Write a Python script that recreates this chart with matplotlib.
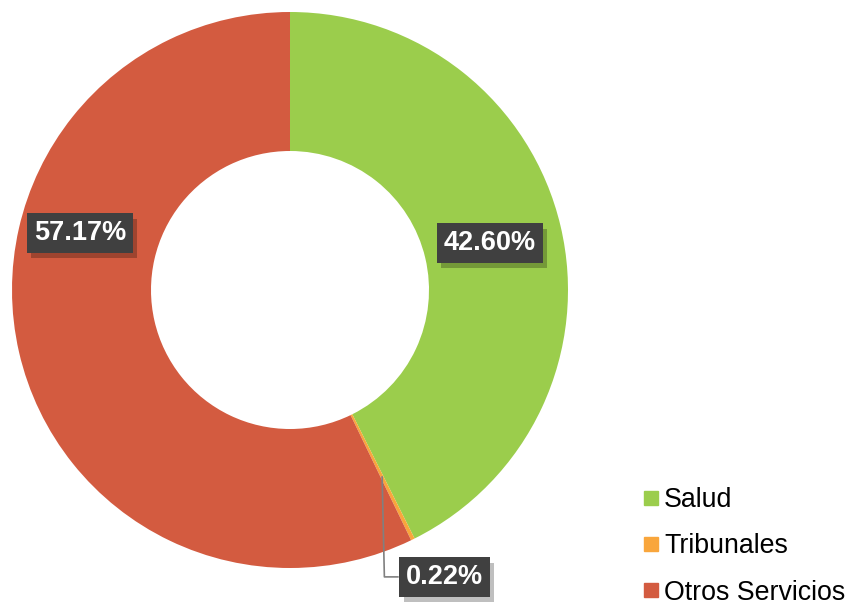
import numpy as np
import matplotlib
matplotlib.use("Agg")
import matplotlib.pyplot as plt
from matplotlib.lines import Line2D
import matplotlib.patheffects as pe

categories = ["Salud", "Tribunales", "Otros Servicios"]
values = [42.60, 0.22, 57.17]
colors = ["#9BCD4C", "#F9A63C", "#D35B40"]
labels = ["42.60%", "0.22%", "57.17%"]

plt.rcParams['font.family'] = ['Liberation Sans', 'DejaVu Sans']

W, H = 853, 604
fig = plt.figure(figsize=(W / 100, H / 100), dpi=100)
cx, cy, R = 290, 290, 278
ax = fig.add_axes([(cx - R) / W, (H - cy - R) / H, 2 * R / W, 2 * R / H])

wedges, _ = ax.pie(values, colors=colors, startangle=90, counterclock=False,
                   radius=1.0, wedgeprops=dict(width=0.5, linewidth=0))
ax.set_xlim(-1, 1)
ax.set_ylim(-1, 1)
ax.set_aspect('equal')
ax.axis('off')

bbox_kw = dict(boxstyle="square,pad=0.25", fc="#404040", ec="none")
def box_label(x, y, s, ha="center"):
    t = ax.text(x, y, s, ha=ha, va="center", color="white", fontsize=19.5,
                fontweight="bold", bbox=bbox_kw, zorder=5, clip_on=False)
    t.get_bbox_patch().set_path_effects(
        [pe.SimplePatchShadow(offset=(3, -4), shadow_rgbFace="black", alpha=0.25), pe.Normal()])
    return t

box_label(0.719, 0.169, labels[0])
box_label(-0.755, 0.205, labels[2])

# Tribunales leader line
total = sum(values)
start = 90 - values[0] / total * 360
mid = np.deg2rad(start - values[1] / total * 360 / 2)
ax_x, ax_y = 0.75 * np.cos(mid), 0.75 * np.sin(mid)
ly = -1.032
lx = 0.388
ax.plot([ax_x, ax_x + 0.008, lx], [ax_y, ly, ly], color="#808080", lw=1.2,
        clip_on=False, zorder=4)
box_label(lx + 0.03, ly, labels[1], ha="left")

handles = [Line2D([0], [0], marker='s', linestyle='none', markersize=9.5,
                  markerfacecolor=c, markeredgecolor=c) for c in colors]
fig.legend(handles, categories, loc="upper left",
           bbox_to_anchor=(644 / W, 1 - 487 / H), frameon=False,
           fontsize=19.3, handlelength=0.55, handletextpad=0.2,
           labelspacing=0.76, borderpad=0, borderaxespad=0)

fig.savefig("out.png", dpi=100)
